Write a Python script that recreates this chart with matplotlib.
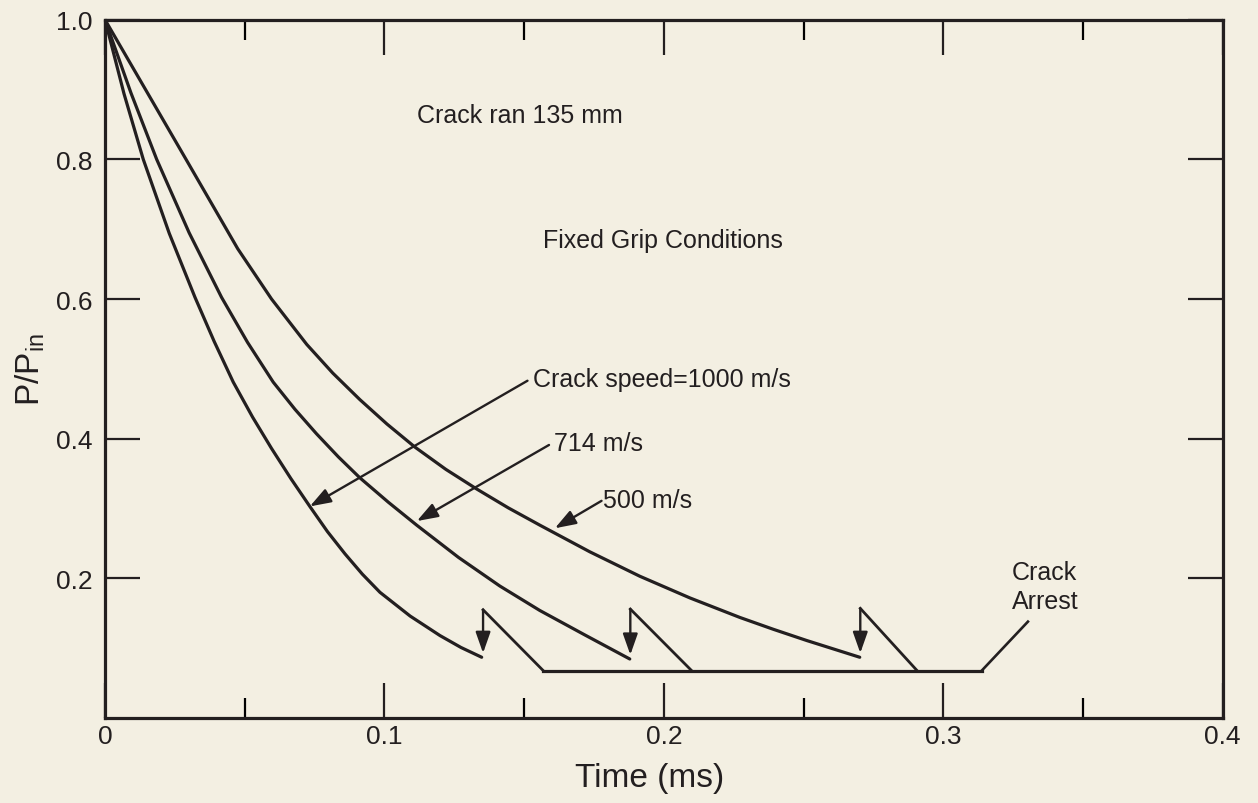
import matplotlib
matplotlib.use("Agg")
import matplotlib.pyplot as plt
from matplotlib.ticker import FixedLocator

plt.rcParams['font.family'] = ['Liberation Sans', 'DejaVu Sans']

# ---- data ----
t_1000 = [0, 0.0068, 0.0137, 0.0230, 0.0322, 0.0391, 0.0459, 0.0528, 0.0596, 0.0665, 0.0733,
          0.0796, 0.0859, 0.0921, 0.0984, 0.1092, 0.1199, 0.1274, 0.1348]
p_1000 = [1.0, 0.894, 0.800, 0.694, 0.6025, 0.539, 0.481, 0.431, 0.386, 0.343, 0.303,
          0.267, 0.235, 0.206, 0.180, 0.146, 0.118, 0.101, 0.087]

t_714 = [0, 0.0093, 0.0185, 0.0301, 0.0417, 0.0510, 0.0602, 0.0680, 0.0757, 0.0835, 0.0912,
         0.1014, 0.1116, 0.1265, 0.1413, 0.1556, 0.1717, 0.1878]
p_714 = [1.0, 0.895, 0.800, 0.695, 0.6025, 0.538, 0.481, 0.442, 0.407, 0.374, 0.344,
         0.309, 0.276, 0.230, 0.189, 0.154, 0.119, 0.0845]

t_500 = [0, 0.0145, 0.0290, 0.0475, 0.0596, 0.0722, 0.0815, 0.0912, 0.1009, 0.1109, 0.1220,
         0.1330, 0.1443, 0.1557, 0.1735, 0.1914, 0.2093, 0.2272, 0.2392, 0.2511, 0.2606, 0.2701]
p_500 = [1.0, 0.900, 0.800, 0.672, 0.600, 0.535, 0.494, 0.456, 0.421, 0.388, 0.356,
         0.328, 0.301, 0.276, 0.238, 0.203, 0.172, 0.144, 0.127, 0.111, 0.099, 0.087]

arrest_t = [0.1353, 0.1880, 0.2703]      # time of the vertical arrows
peak_p = [0.155, 0.156, 0.157]           # top of each sawtooth
settle_t = [0.1568, 0.2099, 0.2906]      # where each drop reaches the floor
floor_p = 0.068
floor_end_t = 0.3138
arrest_leader_end = (0.3303, 0.138)

x_ticks = [0, 0.1, 0.2, 0.3, 0.4]
x_ticklabels = ['0', '0.1', '0.2', '0.3', '0.4']
y_ticks = [0.2, 0.4, 0.6, 0.8, 1.0]
y_ticklabels = ['0.2', '0.4', '0.6', '0.8', '1.0']

INK = '#231f20'
BG = '#f3efe2'

fig = plt.figure(figsize=(12.58, 8.04), dpi=100, facecolor=BG)
ax = fig.add_axes([105/1258, 85/804, 1117.7/1258, 698.3/804])
ax.set_facecolor(BG)

lw = 2.3
for t, p in [(t_1000, p_1000), (t_714, p_714), (t_500, p_500)]:
    ax.plot(t, p, color=INK, lw=lw, solid_joinstyle='round', solid_capstyle='round', zorder=3)

end_p = [p_1000[-1], p_714[-1], p_500[-1]]
arrow_kw = dict(arrowstyle='-|>,head_length=0.85,head_width=0.3', color=INK, lw=1.7,
                shrinkA=0, shrinkB=0, mutation_scale=15)
for ta, pp, ts, pe in zip(arrest_t, peak_p, settle_t, end_p):
    ax.plot([ta, ts], [pp, floor_p], color=INK, lw=2.0, solid_joinstyle='miter', zorder=3)
    ax.annotate('', xy=(ta, pe + 0.006), xytext=(ta, pp), arrowprops=arrow_kw, zorder=3)

ax.plot([settle_t[0], floor_end_t], [floor_p, floor_p], color=INK, lw=2.3, zorder=3)
ax.plot([floor_end_t, arrest_leader_end[0]], [floor_p, arrest_leader_end[1]], color=INK, lw=1.9, zorder=3)

# labelled leaders
fs = 18
ax.annotate('', xy=(0.0733, 0.303), xytext=(0.1512, 0.483), arrowprops=arrow_kw)
ax.text(0.1531, 0.4855, 'Crack speed=1000 m/s', fontsize=fs, ha='left', va='center', color=INK)
ax.annotate('', xy=(0.1116, 0.282), xytext=(0.1589, 0.391), arrowprops=arrow_kw)
ax.text(0.1606, 0.394, '714 m/s', fontsize=fs, ha='left', va='center', color=INK)
ax.annotate('', xy=(0.1610, 0.2717), xytext=(0.1777, 0.311), arrowprops=arrow_kw)
ax.text(0.1782, 0.312, '500 m/s', fontsize=fs, ha='left', va='center', color=INK)

ax.text(0.3244, 0.209, 'Crack', fontsize=fs, ha='left', va='center', color=INK)
ax.text(0.3244, 0.168, 'Arrest', fontsize=fs, ha='left', va='center', color=INK)
ax.text(0.1118, 0.8634, 'Crack ran 135 mm', fontsize=fs, ha='left', va='center', color=INK)
ax.text(0.1568, 0.6845, 'Fixed Grip Conditions', fontsize=fs, ha='left', va='center', color=INK)

# axes
ax.set_xlim(0, 0.4)
ax.set_ylim(0, 1.0)
ax.xaxis.set_major_locator(FixedLocator(x_ticks))
ax.set_xticklabels(x_ticklabels)
ax.xaxis.set_minor_locator(FixedLocator([0.05, 0.15, 0.25, 0.35]))
ax.yaxis.set_major_locator(FixedLocator(y_ticks))
ax.set_yticklabels(y_ticklabels)

for s in ax.spines.values():
    s.set_linewidth(2.3)
    s.set_color(INK)

ax.tick_params(axis='x', which='major', direction='in', length=25, width=1.6, top=True,
               bottom=True, labelsize=19, pad=4, colors=INK)
ax.tick_params(axis='x', which='minor', direction='in', length=14.5, width=1.6, top=True, bottom=True)
ax.tick_params(axis='y', which='major', direction='in', length=25, width=1.6, left=True,
               right=True, labelsize=19, pad=9, colors=INK)

ax.set_xlabel('Time (ms)', fontsize=24, color=INK)
ax.xaxis.set_label_coords(0.4876, -0.063)
ax.set_ylabel(r'P/P$_{\mathregular{in}}$', fontsize=24, color=INK)
ax.yaxis.set_label_coords(-0.052, 0.5)

fig.savefig('out.png', dpi=100, facecolor=BG)
